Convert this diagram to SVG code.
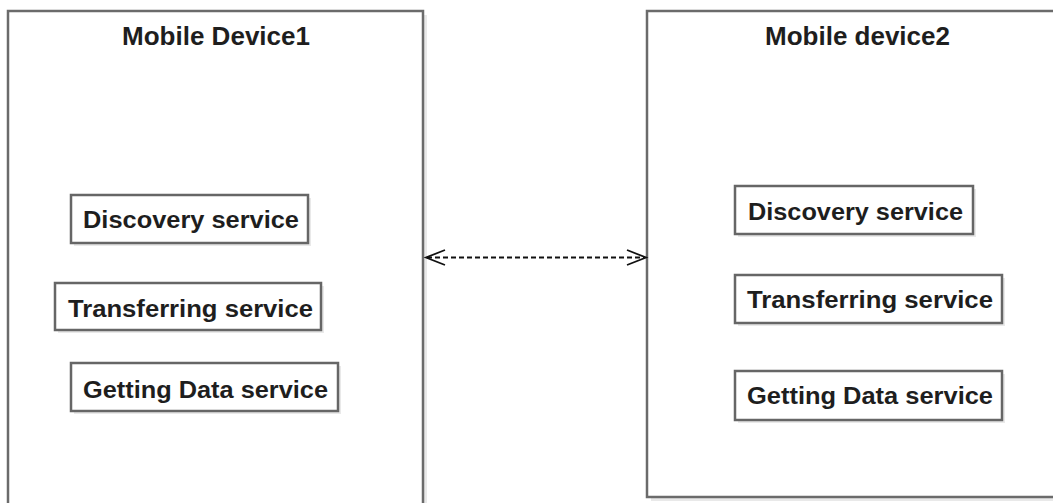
<svg xmlns="http://www.w3.org/2000/svg" width="1053" height="503" viewBox="0 0 1053 503">
<style>
.outer{fill:#ffffff;stroke:#6b6b6b;stroke-width:2.5}
.svc{fill:#ffffff;stroke:#666666;stroke-width:2.5}
.shadow{fill:#e9e9e9;stroke:none}
.title{font-family:"Liberation Sans",Arial,sans-serif;font-weight:bold;font-size:25px;fill:#1e1e1e}
.lbl{font-family:"Liberation Sans",Arial,sans-serif;font-weight:bold;font-size:23px;fill:#1e1e1e}
.conn{fill:none;stroke:#111111;stroke-width:2.2;stroke-dasharray:5 3}
.head{fill:none;stroke:#111111;stroke-width:1.8}
</style>
<rect width="1053" height="503" fill="#ffffff"/>
<g id="device1">
<rect class="shadow" x="12" y="15" width="415" height="500"/>
<rect class="outer" x="8" y="11" width="415" height="500"/>
<text class="title" x="122" y="45" textLength="188" lengthAdjust="spacingAndGlyphs">Mobile Device1</text>
</g>
<g id="device2">
<rect class="shadow" x="651" y="15" width="420" height="486"/>
<rect class="outer" x="647" y="11" width="420" height="486"/>
<text class="title" x="765" y="45" textLength="185" lengthAdjust="spacingAndGlyphs">Mobile device2</text>
</g>
<g id="d1-discovery">
<rect class="shadow" x="74" y="198" width="237" height="48"/>
<rect class="svc" x="71" y="195" width="237" height="48"/>
<text class="lbl" x="83" y="228" textLength="216" lengthAdjust="spacingAndGlyphs">Discovery service</text>
</g>
<g id="d1-transferring">
<rect class="shadow" x="58" y="286" width="266" height="47"/>
<rect class="svc" x="55" y="283" width="266" height="47"/>
<text class="lbl" x="68" y="317" textLength="245" lengthAdjust="spacingAndGlyphs">Transferring service</text>
</g>
<g id="d1-getting">
<rect class="shadow" x="74" y="366" width="267" height="48"/>
<rect class="svc" x="71" y="363" width="267" height="48"/>
<text class="lbl" x="83" y="398" textLength="245" lengthAdjust="spacingAndGlyphs">Getting Data service</text>
</g>
<g id="d2-discovery">
<rect class="shadow" x="738" y="189" width="238" height="48"/>
<rect class="svc" x="735" y="186" width="238" height="48"/>
<text class="lbl" x="748" y="220" textLength="215" lengthAdjust="spacingAndGlyphs">Discovery service</text>
</g>
<g id="d2-transferring">
<rect class="shadow" x="738" y="278" width="267" height="48"/>
<rect class="svc" x="735" y="275" width="267" height="48"/>
<text class="lbl" x="747" y="308" textLength="246" lengthAdjust="spacingAndGlyphs">Transferring service</text>
</g>
<g id="d2-getting">
<rect class="shadow" x="738" y="374" width="267" height="49"/>
<rect class="svc" x="735" y="371" width="267" height="49"/>
<text class="lbl" x="747" y="404" textLength="246" lengthAdjust="spacingAndGlyphs">Getting Data service</text>
</g>
<g id="connectors">
<line class="conn" x1="427" y1="257.5" x2="644" y2="257.5"/>
<polyline class="head" points="445,250 426,257.5 445,265"/>
<polyline class="head" points="627,250 646,257.5 627,265"/>
</g>
</svg>
